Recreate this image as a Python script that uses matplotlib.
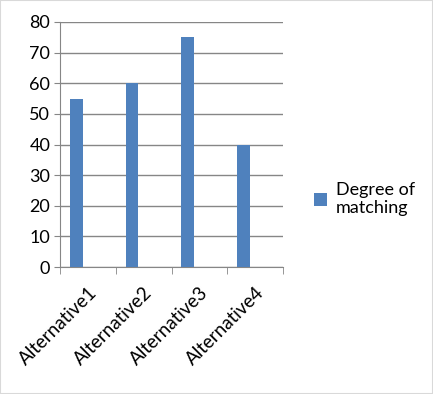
import numpy as np
import matplotlib.pyplot as plt
from matplotlib.patches import Rectangle

categories = ['Alternative1', 'Alternative2', 'Alternative3', 'Alternative4']
values = [55, 60, 75, 40]
series_name = 'Degree of\nmatching'

plt.rcParams['font.family'] = ['Lato', 'DejaVu Sans']

fig = plt.figure(figsize=(4.33, 3.94), dpi=100)
ax = fig.add_axes([60/433, 1 - 267/394, 223/433, 245/394])

x = np.arange(len(categories))
bars = ax.bar(x - 0.21, values, width=0.23, color='#4F81BD', label=series_name, zorder=3)

ax.set_xlim(-0.5, len(categories) - 0.5)
ax.set_ylim(0, 80)
ax.set_yticks(range(0, 81, 10))
ax.tick_params(axis='y', labelsize=13, length=4, color='#868686', pad=3)
ax.grid(axis='y', color='#868686', linewidth=1, zorder=0)

# category labels at centres, tick marks at boundaries
ax.set_xticks(x)
ax.set_xticklabels(categories, rotation=45, ha='right', rotation_mode='anchor', fontsize=13.5)
ax.tick_params(axis='x', which='major', length=0, pad=12)
ax.set_xticks(np.arange(-0.5, len(categories)), minor=True)
ax.tick_params(axis='x', which='minor', length=5, color='#868686')

for side in ['top', 'right']:
    ax.spines[side].set_visible(False)
for side in ['left', 'bottom']:
    ax.spines[side].set_color('#868686')

fig.legend(handles=[bars], labels=[series_name], loc='center left',
           bbox_to_anchor=(298/433, 1 - 199/394), frameon=False, fontsize=13,
           handlelength=0.7, handleheight=0.7, handletextpad=0.5, labelspacing=0)

fig.patches.append(Rectangle((0, 0), 1, 1, transform=fig.transFigure, fill=False,
                             edgecolor='#D9D9D9', linewidth=1.5))

fig.savefig('out.png', dpi=100)
